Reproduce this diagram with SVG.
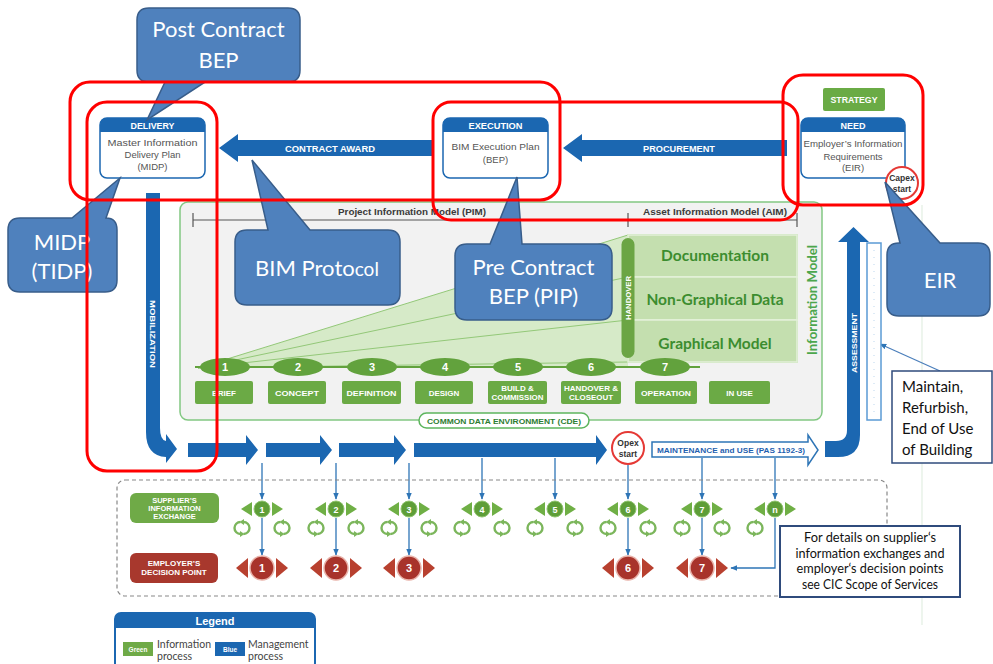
<svg xmlns="http://www.w3.org/2000/svg" width="993" height="664" viewBox="0 0 993 664">
<defs>
<style>
.b{font-family:"Liberation Sans",Arial,sans-serif;font-weight:bold}
.n{font-family:"Liberation Sans",Arial,sans-serif}
.cal{font-family:Lato,"Liberation Sans",sans-serif}
.mid{text-anchor:middle}
.wt{fill:#fff}
.co{fill:#4F81BD;stroke:#385D8A;stroke-width:1.5}
.cot{font-family:Lato,"Liberation Sans",sans-serif;font-size:22px;fill:#fff;text-anchor:middle}
.red{fill:none;stroke:#FF0000;stroke-width:3}
.blue{fill:#1B67B1}
.pbox{fill:#fff;stroke:#1B67B1;stroke-width:1.5}
.btxt{font-family:"Liberation Sans",Arial,sans-serif;font-size:9.5px;fill:#555;text-anchor:middle}
.ell{fill:#62A23D}
.sbox{fill:#6BAA45}
.st{font-family:"Liberation Sans",Arial,sans-serif;font-weight:bold;font-size:8px;fill:#fff;text-anchor:middle}
.num{font-family:"Liberation Sans",Arial,sans-serif;font-weight:bold;fill:#fff;text-anchor:middle}
.tl{stroke:#2E75B6;stroke-width:1.3;fill:none}
.gtri{fill:#6FAF45}
.rtri{fill:#B8402F}
.aim{fill:#C4DFAF;stroke:#E4F1DA;stroke-width:1.5}
.aimt{font-family:Lato,"Liberation Sans",sans-serif;font-weight:bold;font-size:15.5px;fill:#3C8D2F;text-anchor:middle}
.fan{stroke:#93C878;stroke-width:1;fill:none}
</style>
<marker id="ab" viewBox="0 0 10 10" refX="9" refY="5" markerWidth="7" markerHeight="7" markerUnits="userSpaceOnUse" orient="auto"><path d="M0,1 L10,5 L0,9 Z" fill="#2E75B6"/></marker>
<g id="cyc" fill="none" stroke="#7CB65C" stroke-width="2.4">
<path d="M-1.5,-6 A6,6 0 0 0 -1.5,6"/>
<path d="M1.5,6 A6,6 0 0 0 1.5,-6"/>
<path d="M-2,3 L2.5,6 L-2,9 Z" fill="#7CB65C" stroke="none"/>
<path d="M2,-9 L-2.5,-6 L2,-3 Z" fill="#7CB65C" stroke="none"/>
</g>
<g id="gm">
<path class="gtri" d="M-21,0 L-10,-7 L-10,7 Z"/>
<path class="gtri" d="M21,0 L10,-7 L10,7 Z"/>
<circle r="8" fill="#5E9E38" stroke="#8FC36E" stroke-width="1"/>
</g>
<g id="rm">
<path class="rtri" d="M-26,0 L-14,-10 L-14,10 Z"/>
<path class="rtri" d="M26,0 L14,-10 L14,10 Z"/>
<circle r="12" fill="#A8332B" stroke="#E9B3AA" stroke-width="1.5"/>
</g>
</defs>

<rect width="993" height="664" fill="#fff"/>
<line x1="922" y1="205" x2="922" y2="625" stroke="#E2EEE2" stroke-width="1.2"/>

<!-- information area -->
<g id="cde">
<rect x="180" y="202" width="642" height="218" rx="8" fill="#F2F2F2" stroke="#82C882" stroke-width="1.5"/>
<line x1="193" y1="220" x2="797" y2="220" stroke="#555" stroke-width="1.2"/>
<line x1="193" y1="213" x2="193" y2="227" stroke="#555" stroke-width="1.2"/>
<line x1="628" y1="213" x2="628" y2="227" stroke="#555" stroke-width="1.2"/>
<line x1="797" y1="213" x2="797" y2="227" stroke="#555" stroke-width="1.2"/>
<text class="b mid" x="412" y="215" font-size="8.5" fill="#3A3A3A" textLength="148" lengthAdjust="spacingAndGlyphs">Project Information Model (PIM)</text>
<text class="b mid" x="715" y="215" font-size="8.5" fill="#3A3A3A" textLength="144" lengthAdjust="spacingAndGlyphs">Asset Information Model (AIM)</text>
<polygon points="198,368 628,235 628,368" fill="#D3E9C3" opacity="0.9"/>
<line class="fan" x1="198" y1="368" x2="628" y2="235"/>
<line class="fan" x1="198" y1="368" x2="628" y2="277"/>
<line class="fan" x1="198" y1="368" x2="628" y2="320"/>
<line class="fan" x1="198" y1="368" x2="628" y2="362"/>
<rect x="628" y="235" width="169" height="127" fill="none" stroke="#A9D18E" stroke-width="1.5"/>
<rect class="aim" x="628" y="235" width="169" height="42"/>
<rect class="aim" x="628" y="277" width="169" height="43"/>
<rect class="aim" x="628" y="320" width="169" height="42"/>
<text class="aimt" x="715" y="261">Documentation</text>
<text class="aimt" x="715" y="305">Non-Graphical Data</text>
<text class="aimt" x="715" y="349">Graphical Model</text>
<rect x="621.5" y="238" width="13" height="120" rx="6.5" fill="#6BA544"/>
<text class="b mid wt" transform="translate(630.5,298) rotate(-90)" font-size="6.5" textLength="44" lengthAdjust="spacingAndGlyphs">HANDOVER</text>
<text class="cal mid" transform="translate(816.5,300) rotate(-90)" font-size="13" font-weight="bold" fill="#4CA64C" textLength="110" lengthAdjust="spacingAndGlyphs">Information Model</text>
<line x1="195" y1="367" x2="700" y2="367" stroke="#62A23D" stroke-width="2"/>
</g>

<g id="stages">
<ellipse class="ell" cx="225" cy="367" rx="25" ry="9"/><text class="num" x="225" y="371" font-size="11">1</text>
<ellipse class="ell" cx="298" cy="367" rx="25" ry="9"/><text class="num" x="298" y="371" font-size="11">2</text>
<ellipse class="ell" cx="372" cy="367" rx="25" ry="9"/><text class="num" x="372" y="371" font-size="11">3</text>
<ellipse class="ell" cx="445" cy="367" rx="25" ry="9"/><text class="num" x="445" y="371" font-size="11">4</text>
<ellipse class="ell" cx="518" cy="367" rx="25" ry="9"/><text class="num" x="518" y="371" font-size="11">5</text>
<ellipse class="ell" cx="591" cy="367" rx="25" ry="9"/><text class="num" x="591" y="371" font-size="11">6</text>
<ellipse class="ell" cx="665" cy="367" rx="25" ry="9"/><text class="num" x="665" y="371" font-size="11">7</text>
<rect class="sbox" x="195" y="381" width="58" height="23" rx="2"/><text class="st" x="224" y="395.5">BRIEF</text>
<rect class="sbox" x="268" y="381" width="58" height="23" rx="2"/><text class="st" x="297" y="395.5" textLength="44" lengthAdjust="spacingAndGlyphs">CONCEPT</text>
<rect class="sbox" x="342" y="381" width="59" height="23" rx="2"/><text class="st" x="371.5" y="395.5" textLength="50" lengthAdjust="spacingAndGlyphs">DEFINITION</text>
<rect class="sbox" x="415" y="381" width="58" height="23" rx="2"/><text class="st" x="444" y="395.5">DESIGN</text>
<rect class="sbox" x="488" y="381" width="59" height="23" rx="2"/><text class="st" x="517.5" y="391">BUILD &amp;</text><text class="st" x="517.5" y="399.5" textLength="52" lengthAdjust="spacingAndGlyphs">COMMISSION</text>
<rect class="sbox" x="561" y="381" width="60" height="23" rx="2"/><text class="st" x="591" y="391" textLength="54" lengthAdjust="spacingAndGlyphs">HANDOVER &amp;</text><text class="st" x="591" y="399.5" textLength="44" lengthAdjust="spacingAndGlyphs">CLOSEOUT</text>
<rect class="sbox" x="635" y="381" width="62" height="23" rx="2"/><text class="st" x="666" y="395.5" textLength="50" lengthAdjust="spacingAndGlyphs">OPERATION</text>
<rect class="sbox" x="709" y="381" width="61" height="23" rx="2"/><text class="st" x="739.5" y="395.5">IN USE</text>
</g>

<g id="cde-label">
<rect x="419" y="413" width="170" height="15" rx="7.5" fill="#fff" stroke="#5DB55D" stroke-width="1.5"/>
<text class="b mid" x="504" y="423.5" font-size="7.5" fill="#2E7D32" textLength="154" lengthAdjust="spacingAndGlyphs">COMMON DATA ENVIRONMENT (CDE)</text>
</g>

<!-- process boxes -->
<g id="delivery">
<rect class="pbox" x="100" y="118" width="105" height="60" rx="7"/>
<path class="blue" d="M100,132 V125 Q100,118 107,118 H198 Q205,118 205,125 V132 Z"/>
<text class="b mid wt" x="152.5" y="128.5" font-size="9" textLength="44" lengthAdjust="spacingAndGlyphs">DELIVERY</text>
<text class="btxt" x="152.5" y="146" textLength="90" lengthAdjust="spacingAndGlyphs">Master Information</text>
<text class="btxt" x="152.5" y="158">Delivery Plan</text>
<text class="btxt" x="152.5" y="170">(MIDP)</text>
</g>
<g id="execution">
<rect class="pbox" x="443" y="118" width="105" height="60" rx="7"/>
<path class="blue" d="M443,132 V125 Q443,118 450,118 H541 Q548,118 548,125 V132 Z"/>
<text class="b mid wt" x="495.5" y="128.5" font-size="9" textLength="54" lengthAdjust="spacingAndGlyphs">EXECUTION</text>
<text class="btxt" x="495.5" y="150" textLength="88" lengthAdjust="spacingAndGlyphs">BIM Execution Plan</text>
<text class="btxt" x="495.5" y="163">(BEP)</text>
</g>
<g id="strategy">
<rect x="823" y="88" width="62" height="23" rx="2" fill="#6AAB45"/>
<text class="b mid wt" x="854" y="103" font-size="9" textLength="47" lengthAdjust="spacingAndGlyphs">STRATEGY</text>
</g>
<g id="need">
<rect class="pbox" x="801" y="118" width="104" height="60" rx="7"/>
<path class="blue" d="M801,132 V125 Q801,118 808,118 H898 Q905,118 905,125 V132 Z"/>
<text class="b mid wt" x="853" y="128.5" font-size="9">NEED</text>
<text class="btxt" x="853" y="147" textLength="99" lengthAdjust="spacingAndGlyphs">Employer’s Information</text>
<text class="btxt" x="853" y="160">Requirements</text>
<text class="btxt" x="853" y="171">(EIR)</text>
</g>
<g id="capex">
<circle cx="902" cy="183" r="16" fill="#fff" stroke="#E53935" stroke-width="2"/>
<text class="b mid" x="902" y="181" font-size="8.5" fill="#333">Capex</text>
<text class="b mid" x="902" y="192" font-size="8.5" fill="#333">start</text>
</g>

<!-- main flow arrows -->
<g id="connectors">
<polygon class="blue" points="219,148 238,134 238,140 432,140 432,156 238,156 238,162"/>
<text class="b mid wt" x="330" y="151.5" font-size="9" textLength="90" lengthAdjust="spacingAndGlyphs">CONTRACT AWARD</text>
<polygon class="blue" points="563,148 582,134 582,140 787,140 787,156 582,156 582,162"/>
<text class="b mid wt" x="679" y="151.5" font-size="9" textLength="72" lengthAdjust="spacingAndGlyphs">PROCUREMENT</text>
<path class="blue" d="M146,193 H160 V428 Q160,440 166,441 V434 L177,449 L166,463 V457 Q146,456 146,432 Z"/>
<text class="b mid wt" transform="translate(150,334) rotate(90)" font-size="8" textLength="68" lengthAdjust="spacingAndGlyphs">MOBILIZATION</text>
<polygon class="blue" points="188,443 246,443 246,435 258,450 246,465 246,457 188,457"/>
<polygon class="blue" points="266,443 320,443 320,435 332,450 320,465 320,457 266,457"/>
<polygon class="blue" points="339,443 394,443 394,435 406,450 394,465 394,457 339,457"/>
<polygon class="blue" points="414,443 596,443 596,435 607,450 596,465 596,457 414,457"/>
<polygon points="652,442 808,442 808,435 818,450 808,465 808,457 652,457" fill="#fff" stroke="#2E75B6" stroke-width="1.5"/>
<text class="b mid" x="731" y="453" font-size="8" fill="#1F5FAF" textLength="148" lengthAdjust="spacingAndGlyphs">MAINTENANCE and USE (PAS 1192-3)</text>
<path class="blue" d="M860,242 V435 Q860,457 838,457 H825 V441 H836 Q847,441 847,430 V242 H838 L853.5,227 L869,242 Z"/>
<text class="b mid wt" transform="translate(856.5,343) rotate(-90)" font-size="8" textLength="60" lengthAdjust="spacingAndGlyphs">ASSESSMENT</text>
<line class="tl" x1="262" y1="463" x2="262" y2="499" marker-end="url(#ab)"/>
<line class="tl" x1="336" y1="463" x2="336" y2="499" marker-end="url(#ab)"/>
<line class="tl" x1="409" y1="463" x2="409" y2="499" marker-end="url(#ab)"/>
<line class="tl" x1="482" y1="458" x2="482" y2="499" marker-end="url(#ab)"/>
<line class="tl" x1="555" y1="458" x2="555" y2="499" marker-end="url(#ab)"/>
<line class="tl" x1="628" y1="465" x2="628" y2="499" marker-end="url(#ab)"/>
<line class="tl" x1="702" y1="458" x2="702" y2="499" marker-end="url(#ab)"/>
<line class="tl" x1="775" y1="458" x2="775" y2="499" marker-end="url(#ab)"/>
<line class="tl" x1="262" y1="518" x2="262" y2="555" marker-end="url(#ab)"/>
<line class="tl" x1="336" y1="518" x2="336" y2="555" marker-end="url(#ab)"/>
<line class="tl" x1="409" y1="518" x2="409" y2="555" marker-end="url(#ab)"/>
<line class="tl" x1="628" y1="518" x2="628" y2="555" marker-end="url(#ab)"/>
<line class="tl" x1="702" y1="518" x2="702" y2="555" marker-end="url(#ab)"/>
<polyline class="tl" points="775,518 775,568 731,568" marker-end="url(#ab)"/>
<line x1="940" y1="371" x2="880" y2="344" stroke="#4A7EBB" stroke-width="1.2" marker-end="url(#ab)"/>
</g>

<g id="opex">
<circle cx="628" cy="448" r="16" fill="#fff" stroke="#E53935" stroke-width="2"/>
<text class="b mid" x="628" y="446" font-size="8.5" fill="#333">Opex</text>
<text class="b mid" x="628" y="457" font-size="8.5" fill="#333">start</text>
</g>

<g id="assessment-bar">
<rect x="867" y="243" width="14" height="177" fill="#fff" stroke="#5B9BD5" stroke-width="1.5"/>
<line x1="874" y1="250" x2="874" y2="414" stroke="#BDD7EE" stroke-width="1" stroke-dasharray="1 6"/>
</g>

<g id="maintain">
<rect x="892" y="371" width="100" height="92" fill="#fff" stroke="#2F4B7C" stroke-width="1.5"/>
<text class="cal" x="902" y="392" font-size="15" fill="#111">Maintain,</text>
<text class="cal" x="902" y="413" font-size="15" fill="#111">Refurbish,</text>
<text class="cal" x="902" y="434" font-size="15" fill="#111">End of Use</text>
<text class="cal" x="902" y="455" font-size="15" fill="#111">of Building</text>
</g>

<!-- exchange / decision area -->
<g id="exchange">
<rect x="117" y="480" width="770" height="116" rx="8" fill="none" stroke="#888" stroke-width="1.2" stroke-dasharray="4 3"/>
<rect x="130" y="493" width="89" height="30" rx="6" fill="#6FAA47"/>
<text class="b mid wt" x="174.5" y="502.5" font-size="7.5">SUPPLIER’S</text>
<text class="b mid wt" x="174.5" y="510.5" font-size="7.5">INFORMATION</text>
<text class="b mid wt" x="174.5" y="518.5" font-size="7.5">EXCHANGE</text>
<rect x="130" y="553" width="88" height="30" rx="6" fill="#A8382D"/>
<text class="b mid wt" x="174" y="565.5" font-size="8">EMPLOYER’S</text>
<text class="b mid wt" x="174" y="575" font-size="8">DECISION POINT</text>
<g id="se1"><use href="#gm" x="262" y="509"/><text class="num" x="262" y="512.5" font-size="9">1</text><use href="#cyc" x="242" y="528"/><use href="#cyc" x="282" y="528"/></g>
<g id="se2"><use href="#gm" x="336" y="509"/><text class="num" x="336" y="512.5" font-size="9">2</text><use href="#cyc" x="316" y="528"/><use href="#cyc" x="356" y="528"/></g>
<g id="se3"><use href="#gm" x="409" y="509"/><text class="num" x="409" y="512.5" font-size="9">3</text><use href="#cyc" x="389" y="528"/><use href="#cyc" x="429" y="528"/></g>
<g id="se4"><use href="#gm" x="482" y="509"/><text class="num" x="482" y="512.5" font-size="9">4</text><use href="#cyc" x="462" y="528"/><use href="#cyc" x="502" y="528"/></g>
<g id="se5"><use href="#gm" x="555" y="509"/><text class="num" x="555" y="512.5" font-size="9">5</text><use href="#cyc" x="535" y="528"/><use href="#cyc" x="575" y="528"/></g>
<g id="se6"><use href="#gm" x="628" y="509"/><text class="num" x="628" y="512.5" font-size="9">6</text><use href="#cyc" x="608" y="528"/><use href="#cyc" x="648" y="528"/></g>
<g id="se7"><use href="#gm" x="702" y="509"/><text class="num" x="702" y="512.5" font-size="9">7</text><use href="#cyc" x="682" y="528"/><use href="#cyc" x="722" y="528"/></g>
<g id="sen"><use href="#gm" x="775" y="509"/><text class="num" x="775" y="512.5" font-size="9">n</text><use href="#cyc" x="755" y="528"/></g>
<g id="dp1"><use href="#rm" x="262" y="568"/><text class="num" x="262" y="572" font-size="11">1</text></g>
<g id="dp2"><use href="#rm" x="336" y="568"/><text class="num" x="336" y="572" font-size="11">2</text></g>
<g id="dp3"><use href="#rm" x="409" y="568"/><text class="num" x="409" y="572" font-size="11">3</text></g>
<g id="dp6"><use href="#rm" x="628" y="568"/><text class="num" x="628" y="572" font-size="11">6</text></g>
<g id="dp7"><use href="#rm" x="702" y="568"/><text class="num" x="702" y="572" font-size="11">7</text></g>
</g>

<g id="details">
<rect x="780" y="526" width="180" height="71" fill="#fff" stroke="#2F4B7C" stroke-width="2"/>
<text class="cal mid" x="870" y="542" font-size="13" fill="#111" textLength="132" lengthAdjust="spacingAndGlyphs">For details on supplier‘s</text>
<text class="cal mid" x="870" y="557.5" font-size="13" fill="#111" textLength="149" lengthAdjust="spacingAndGlyphs">information exchanges and</text>
<text class="cal mid" x="870" y="573" font-size="13" fill="#111" textLength="147" lengthAdjust="spacingAndGlyphs">employer‘s decision points</text>
<text class="cal mid" x="870" y="589" font-size="13" fill="#111" textLength="136" lengthAdjust="spacingAndGlyphs">see CIC Scope of Services</text>
</g>

<g id="legend">
<rect x="115" y="613" width="200" height="56" rx="6" fill="#fff" stroke="#1B67B1" stroke-width="2"/>
<path class="blue" d="M115,628 V619 Q115,613 121,613 H309 Q315,613 315,619 V628 Z"/>
<text class="b mid wt" x="215" y="624.5" font-size="11">Legend</text>
<rect x="123" y="642" width="30" height="14" fill="#6FAA47"/>
<text class="b mid wt" x="138" y="652" font-size="6.5">Green</text>
<text class="cal" x="157" y="648" font-size="10.5" fill="#444">Information</text>
<text class="cal" x="157" y="660" font-size="10.5" fill="#444">process</text>
<rect x="215" y="642" width="30" height="14" fill="#1B67B1"/>
<text class="b mid wt" x="230" y="652" font-size="6.5">Blue</text>
<text class="cal" x="248" y="648" font-size="10.5" fill="#444">Management</text>
<text class="cal" x="248" y="660" font-size="10.5" fill="#444">process</text>
</g>

<!-- callouts -->
<g id="callout-post">
<path class="co" d="M149,8 H288 Q300,8 300,20 V70 Q300,82 288,82 H205 L147,120 L165,82 H149 Q137,82 137,70 V20 Q137,8 149,8 Z"/>
<text class="cot" x="218.5" y="37">Post Contract</text>
<text class="cot" x="218.5" y="68">BEP</text>
</g>
<g id="callout-midp">
<path class="co" d="M20,218 H72 L120,178 L106,218 Q117,218 117,230 V280 Q117,292 105,292 H20 Q8,292 8,280 V230 Q8,218 20,218 Z"/>
<text class="cot" x="62" y="250">MIDP</text>
<text class="cot" x="62" y="279">(TIDP)</text>
</g>
<g id="callout-protocol">
<path class="co" d="M247,230 H268 L252,160 L310,230 H388 Q400,230 400,242 V293 Q400,305 388,305 H247 Q235,305 235,293 V242 Q235,230 247,230 Z"/>
<text class="cot" x="317" y="276">BIM Proto<tspan font-size="19">col</tspan></text>
</g>
<g id="callout-pip">
<path class="co" d="M467,244 H490 L517,177 L522,244 H600 Q612,244 612,256 V308 Q612,320 600,320 H467 Q455,320 455,308 V256 Q455,244 467,244 Z"/>
<text class="cot" x="533.5" y="275">Pre Contract</text>
<text class="cot" x="533.5" y="304">BEP (PIP)</text>
</g>
<g id="callout-eir">
<path class="co" d="M899,243 H900 L885,182 L940,243 H978 Q990,243 990,255 V304 Q990,316 978,316 H899 Q887,316 887,304 V255 Q887,243 899,243 Z"/>
<text class="cot" x="940" y="288">EIR</text>
</g>

<!-- red highlight frames -->
<g id="highlights">
<rect class="red" x="70" y="82" width="490" height="118" rx="20"/>
<rect class="red" x="87" y="102" width="130" height="369" rx="20"/>
<rect class="red" x="433" y="102" width="365" height="118" rx="18"/>
<rect class="red" x="783" y="75" width="140" height="130" rx="20"/>
</g>
</svg>
